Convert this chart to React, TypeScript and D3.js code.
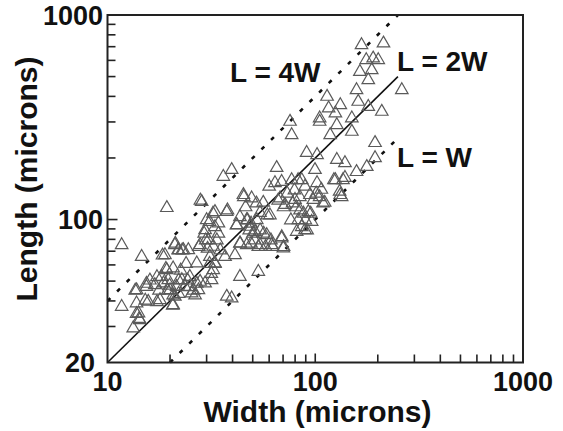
import React from "react";
import * as d3 from "d3";

// Width (microns) of each measured cell
const widths = [
  167, 213, 176, 190, 201, 164, 187, 180, 158, 261, 114, 161, 180, 132, 116, 209, 105, 125, 150,
  75.6, 105, 77, 127, 118, 150, 194, 194, 90.9, 102, 127, 139, 177, 158, 65.2, 99.7, 39.6, 64, 68.9, 77,
  86.1, 89.3, 102, 107, 125, 139, 132, 45.1, 49.4, 56.2, 67.7, 71.5, 79.9, 94.3, 97.9, 111, 84.5, 92.6,
  82.9, 96.1, 89.3, 81.4, 60.5, 54.2, 52.3, 46.8, 43.4, 41.9, 48.5, 51.3, 58.4, 68.9, 61.7, 70.2, 43.4,
  46.8, 54.2, 41.1, 43.4, 53.2, 39.6,
  11.7, 19.3, 14.6, 11.7, 13.8, 13.8, 14.1, 14.3, 13.3, 15.4, 15.7, 16.9, 18.2, 18.9, 19.3, 18.6, 17.9,
  20, 19.6, 20.7, 21.1, 21.9, 23.2, 24.5, 21.5, 21.1, 20.7, 22.8, 23.6, 24.9, 25.4, 27.4, 27.9, 26.9,
  27.9, 28.4, 30, 29.5, 30.6, 32.3, 31.1, 32.9, 32.3, 31.7, 29.5, 32.9, 34.2, 37.5, 36.1, 36.8, 37.5,
  17.3, 17.7, 17.3, 19.1, 19.9, 20.7, 20.6, 19.5, 22.5, 22, 22, 23.9, 24.3, 24.8, 25.9, 26.4, 26.9,
  21.2, 22, 22.9, 29.2, 29.7, 31, 32.2, 32.9, 33.6, 34.2, 34.9, 31, 31.6, 32.9, 28, 27.5, 30.3, 37.8,
  41.8, 43.5, 45.3, 46.2, 52.1, 58.8, 60, 66.3, 70.4, 73.3, 79.4, 82.7, 84.3,
  47.2, 48.1, 49.1, 50.1, 51.1, 49.1, 53.2, 54.3, 56.5, 57.6, 61.2, 62.4, 69, 70.4,
  76.3, 77.8, 81, 86.1, 87.8, 89.6, 91.4, 95.1, 101, 105, 109, 123, 131, 134, 136,
  18.4, 15.4, 15.2, 16, 13.6, 13.8, 14.2,
];

// Length (microns) of each measured cell
const lengths = [
  713, 727, 603, 614, 603, 528, 538, 481, 430, 430, 399, 377, 356, 363, 350, 337, 313, 331, 313,
  301, 301, 259, 290, 259, 269, 237, 200, 212, 207, 196, 189, 181, 171, 179, 175, 175, 151, 153, 156,
  156, 145, 151, 140, 156, 160, 132, 132, 127, 121, 127, 118, 125, 132, 125, 121, 111, 109,
  99.5, 97.6, 88.9, 87.2, 105, 108, 99.5, 99.5, 103, 94, 92.3, 87.2, 84, 80.9, 75.1, 72.4, 76.5,
  75.1, 75.1, 67.1, 52.5, 55.6, 41.2,
  75.1, 114, 65.8, 37.5, 45.2, 39, 34.8, 32.3, 29.4, 46.9, 39.7, 47.9, 52.5, 67.1, 56.7, 48.8, 40.4,
  45.2, 50.6, 57.8, 75.1, 71, 71, 71, 46.9, 42, 38.2, 50.6, 46.9, 52.5, 43.6, 45.2, 49.7, 61.1,
  75.1, 122, 99.5, 88.9, 79.4, 73.7, 65.8, 61.1, 56.7, 50.6, 48.8, 109, 95.9, 109, 162, 65.8, 42,
  52.4, 45, 39.5, 57.5, 47.6, 42.6, 38, 45, 56.4, 50.4, 43.4, 60.8, 50.4, 46.8, 45, 42.6, 48.6,
  76.3, 70.8, 70.8, 85.4, 79.2, 97.4, 107, 92, 79.2, 85.4, 70.8, 60.8, 54.3, 60.8, 124, 73.5, 72.1, 111,
  93.8, 76.3, 129, 115, 120, 105, 145, 124, 115, 134, 139, 156, 129,
  99.3, 88.6, 95.6, 85.4, 79.2, 76.3, 73.5, 88.6, 85.4, 73.5, 79.2, 73.5, 82.2, 73.5,
  99.3, 120, 115, 92, 107, 99.3, 88.6, 107, 134, 129, 120, 156, 137, 129, 156,
  66.8, 48.6, 40.2, 50.4, 45, 34.6, 32.7,
];

const xTickLabels = [10, 100, 1000];
const yTickLabels = [20, 100, 1000];

// Reference lines L = k * W
const lineRatios = [4, 2, 1];
const lineNames = ["L = 4W", "L = 2W", "L = W"];
const lineStartW = [10, 10, 20];
const lineEndW = [250, 250, 250];
const lineDashed = [true, false, true];

const W = 563;
const H = 431;
const plot = { left: 107.5, right: 523, top: 15, bottom: 362.5 };
const FONT = "'Liberation Sans', Arial, Helvetica, sans-serif";

export default function App() {
  const x = d3.scaleLog().domain([10, 1000]).range([plot.left, plot.right]);
  const y = d3.scaleLog().domain([20, 1000]).range([plot.bottom, plot.top]);

  const xMinor = x.ticks().filter((t) => t > 10 && t < 1000);
  const yMinor = y.ticks().filter((t) => t > 20 && t < 1000);

  const tri = d3.symbol().type(d3.symbolTriangle).size(68);
  const triPath = tri() as string;

  const line = d3
    .line<number[]>()
    .x((d) => x(d[0]))
    .y((d) => y(d[1]));

  const labelPos = [
    { x: 230, y: 82 },
    { x: 397, y: 71 },
    { x: 397, y: 167 },
  ];

  return (
    <svg
      width={W}
      height={H}
      style={{ position: "absolute", left: 0, top: 0, background: "#fff" }}
      fontFamily={FONT}
    >
      <rect x={0} y={0} width={W} height={H} fill="#fff" />
      {lineRatios.map((k, i) => (
        <path
          key={"l" + i}
          d={line([
            [lineStartW[i], lineStartW[i] * k],
            [lineEndW[i], lineEndW[i] * k],
          ]) as string}
          fill="none"
          stroke="#111"
          strokeWidth={lineDashed[i] ? 2.6 : 1.6}
          strokeDasharray={lineDashed[i] ? "4,9.5" : undefined}
        />
      ))}
      {widths.map((w, i) => (
        <path
          key={"p" + i}
          d={triPath}
          transform={`translate(${x(w)},${y(lengths[i])})`}
          fill="none"
          stroke="#5a5a5a"
          strokeWidth={1.2}
        />
      ))}
      <rect
        x={plot.left}
        y={plot.top}
        width={plot.right - plot.left}
        height={plot.bottom - plot.top}
        fill="none"
        stroke="#222"
        strokeWidth={2}
      />
      {xMinor.map((t) => (
        <line
          key={"xt" + t}
          x1={x(t)}
          x2={x(t)}
          y1={plot.bottom}
          y2={plot.bottom - (t === 100 ? 9 : 8)}
          stroke="#222"
          strokeWidth={1.6}
        />
      ))}
      {yMinor.map((t) => (
        <line
          key={"yt" + t}
          x1={plot.left}
          x2={plot.left + (t === 100 ? 10 : 8)}
          y1={y(t)}
          y2={y(t)}
          stroke="#222"
          strokeWidth={1.6}
        />
      ))}
      {xTickLabels.map((t) => (
        <text
          key={"xl" + t}
          x={x(t)}
          y={391}
          textAnchor="middle"
          fontSize={27}
          fontWeight="bold"
          fill="#111"
        >
          {t}
        </text>
      ))}
      {yTickLabels.map((t) => (
        <text
          key={"yl" + t}
          x={t === 20 ? 95 : 103}
          y={t === 20 ? 372 : y(t) + 9.5}
          textAnchor="end"
          fontSize={27}
          fontWeight="bold"
          fill="#111"
        >
          {t}
        </text>
      ))}
      <text
        x={317.5}
        y={422}
        textAnchor="middle"
        fontSize={30}
        fontWeight="bold"
        fill="#111"
      >
        Width (microns)
      </text>
      <text
        transform={`translate(37,179) rotate(-90)`}
        textAnchor="middle"
        fontSize={30}
        fontWeight="bold"
        fill="#111"
      >
        Length (microns)
      </text>
      {lineNames.map((n, i) => (
        <text
          key={"ln" + i}
          x={labelPos[i].x}
          y={labelPos[i].y}
          fontSize={28}
          fontWeight="bold"
          fill="#111"
        >
          {n}
        </text>
      ))}
    </svg>
  );
}
